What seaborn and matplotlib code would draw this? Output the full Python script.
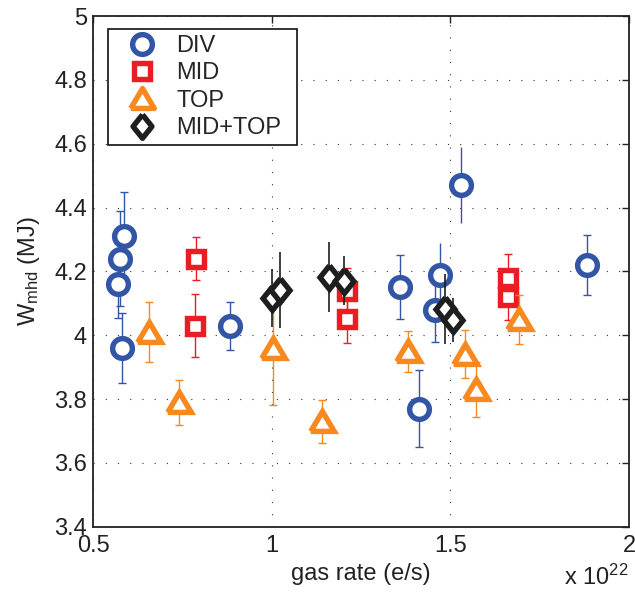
import numpy as np
import pandas as pd
import matplotlib
matplotlib.use("Agg")
import matplotlib.pyplot as plt
import seaborn as sns
from matplotlib.markers import MarkerStyle
from matplotlib.lines import Line2D
from matplotlib.ticker import FuncFormatter

# ---------------- data ----------------
div_x = [0.570, 0.575, 0.587, 0.581, 0.883, 1.360, 1.470, 1.458, 1.411, 1.530, 1.881]
div_y = [4.16, 4.24, 4.31, 3.96, 4.03, 4.15, 4.19, 4.08, 3.77, 4.47, 4.22]
div_err = [0.105, 0.15, 0.14, 0.11, 0.075, 0.10, 0.10, 0.10, 0.12, 0.12, 0.093]

mid_x = [0.787, 0.786, 1.210, 1.210, 1.661, 1.661]
mid_y = [4.24, 4.03, 4.14, 4.05, 4.18, 4.12]
mid_err = [0.067, 0.098, 0.07, 0.073, 0.073, 0.073]

top_x = [0.657, 0.739, 1.002, 1.140, 1.381, 1.542, 1.572, 1.691]
top_y = [4.01, 3.79, 3.96, 3.73, 3.95, 3.94, 3.83, 4.05]
top_err = [0.093, 0.07, 0.18, 0.067, 0.064, 0.075, 0.085, 0.077]

midtop_x = [1.000, 1.022, 1.159, 1.201, 1.485, 1.508]
midtop_y = [4.116, 4.142, 4.182, 4.171, 4.081, 4.048]
midtop_err = [0.09, 0.12, 0.11, 0.076, 0.11, 0.07]

labels = ["DIV", "MID", "TOP", "MID+TOP"]
x_ticks = [0.5, 1, 1.5, 2]
y_ticks = [3.4, 3.6, 3.8, 4.0, 4.2, 4.4, 4.6, 4.8, 5.0]

# ---------------- style ----------------
sns.set_style("white")
plt.rcParams["font.family"] = ["Liberation Sans", "DejaVu Sans"]
plt.rcParams["mathtext.default"] = "regular"
FS = 17

colors = {"DIV": "#3355a5", "MID": "#ec1c24", "TOP": "#f7891f", "MID+TOP": "#1e1e1e"}
tri = np.array([[-1.0, -0.84], [1.0, -0.84], [0.0, 0.84], [-1.0, -0.84]])
dia = np.array([[0.0, 1.0], [0.8, 0.0], [0.0, -1.0], [-0.8, 0.0], [0.0, 1.0]])
markers = {
    "DIV": MarkerStyle("o"),
    "MID": MarkerStyle("s", joinstyle="miter"),
    "TOP": MarkerStyle(tri, joinstyle="miter"),
    "MID+TOP": MarkerStyle(dia, joinstyle="miter"),
}
msize = {"DIV": 14.2, "MID": 11.8, "TOP": 17.0, "MID+TOP": 17.0}
mew = 3.9
div_nocap = [6, 9]  # indices of DIV points drawn without caps

groups = {
    "DIV": (div_x, div_y, div_err),
    "MID": (mid_x, mid_y, mid_err),
    "TOP": (top_x, top_y, top_err),
    "MID+TOP": (midtop_x, midtop_y, midtop_err),
}

fig = plt.figure(figsize=(6.35, 5.98), dpi=100)
ax = fig.add_axes([93.3 / 635, 1 - 526.7 / 598, (629 - 93.3) / 635, (526.7 - 16) / 598])

z = 3
for name in labels:
    gx, gy, ge = groups[name]
    df = pd.DataFrame({"x": gx, "y": gy, "err": ge})
    c = colors[name]
    if name == "DIV":
        capped = df.drop(index=div_nocap)
        uncapped = df.loc[div_nocap]
        ax.errorbar(capped.x, capped.y, yerr=capped.err, fmt="none", ecolor=c,
                    elinewidth=1.0, capsize=3.2, capthick=1.0, zorder=z)
        ax.errorbar(uncapped.x, uncapped.y, yerr=uncapped.err, fmt="none", ecolor=c,
                    elinewidth=1.0, capsize=0, zorder=z)
    elif name == "MID+TOP":
        ax.errorbar(df.x, df.y, yerr=df.err, fmt="none", ecolor=c,
                    elinewidth=1.2, capsize=0, zorder=z)
    else:
        ax.errorbar(df.x, df.y, yerr=df.err, fmt="none", ecolor=c,
                    elinewidth=1.0, capsize=3.2, capthick=1.0, zorder=z)
    sns.scatterplot(data=df, x="x", y="y", marker=markers[name], s=msize[name] ** 2,
                    color="white", edgecolor=c, linewidth=mew, joinstyle="miter",
                    zorder=z + 1, ax=ax, legend=False)
    z += 2

ax.set_xlim(0.5, 2)
ax.set_ylim(3.4, 5)
ax.set_xticks(x_ticks)
ax.set_yticks(y_ticks)
fmt = FuncFormatter(lambda v, p: f"{v:g}")
ax.xaxis.set_major_formatter(fmt)
ax.yaxis.set_major_formatter(fmt)
ax.tick_params(direction="in", top=True, right=True, length=5, width=1.0,
               labelsize=FS, colors="#222222")
ax.tick_params(axis="x", pad=6)
ax.tick_params(axis="y", pad=4.5)

ax.grid(True, color="#333333", linestyle=(0, (1, 10)), linewidth=0.8)
ax.set_axisbelow(True)
for sp in ax.spines.values():
    sp.set_linewidth(1.3)
    sp.set_color("#222222")
    sp.set_zorder(20)

ax.set_xlabel("gas rate (e/s)", fontsize=FS, labelpad=4, color="#222222")
ax.set_ylabel("W$_{mhd}$ (MJ)", fontsize=FS, labelpad=9, color="#222222")
fig.text(628 / 635, 1 - 585 / 598, "x 10$^{22}$", ha="right", va="baseline",
         fontsize=FS, color="#222222")

handles = [Line2D([], [], linestyle="none", marker=markers[n], markersize=msize[n],
                  markeredgewidth=mew, markerfacecolor="white",
                  markeredgecolor=colors[n]) for n in labels]
leg = ax.legend(handles, labels, loc="upper left",
                bbox_to_anchor=(0.027, 0.5, 0.353, 0.474), mode="expand",
                borderaxespad=0, fontsize=FS, frameon=True, fancybox=False,
                framealpha=1, edgecolor="#111111", borderpad=0.25,
                labelspacing=0.22, handlelength=2.4, handletextpad=0.25)
leg.get_frame().set_linewidth(1.2)
leg.set_zorder(30)

fig.savefig("out.png", dpi=100)
